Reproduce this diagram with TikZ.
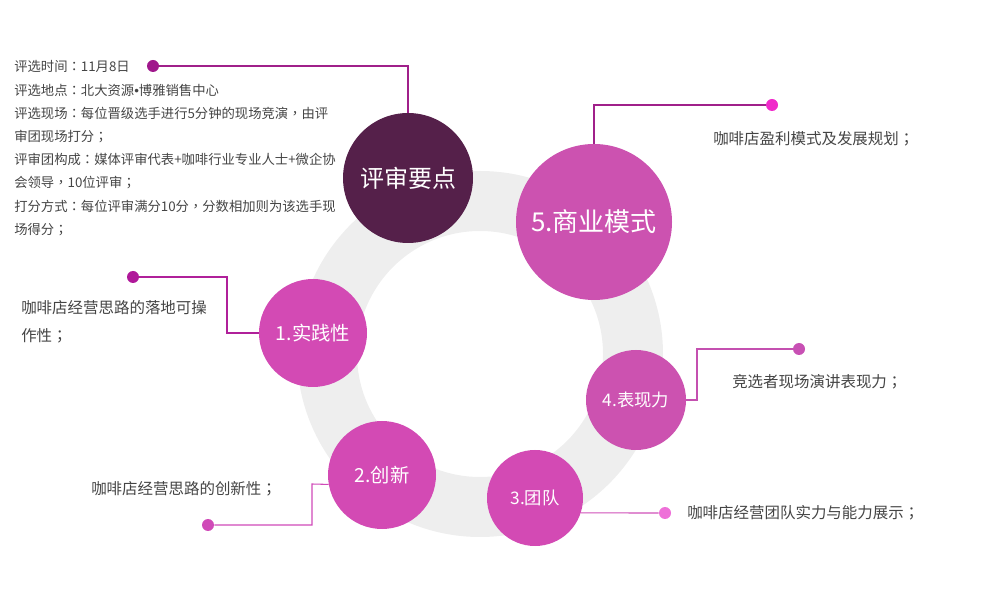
\documentclass[tikz,border=0pt]{standalone}
\usepackage{fontspec}
\setmainfont{Noto Sans CJK SC}
\newfontfamily\tcpunct{Noto Sans CJK TC}
\newfontfamily\latinbul{Liberation Sans}
\newcommand\pSemi{{\tcpunct ；}}
\newcommand\pColon{{\tcpunct ：}}
\newcommand\pComma{{\tcpunct ，}}
\newcommand\pBul{{\latinbul •}}
\definecolor{ringgray}{RGB}{238,238,238}
\definecolor{darkplum}{RGB}{85,32,74}
\definecolor{pinkA}{RGB}{204,82,176}
\definecolor{pinkB}{RGB}{211,74,180}
\definecolor{txtgray}{RGB}{68,68,68}
\definecolor{ln0}{RGB}{160,32,138}
\definecolor{ln1}{RGB}{176,32,154}
\definecolor{ln4}{RGB}{196,80,176}
\definecolor{ln2}{RGB}{208,74,184}
\definecolor{ln3}{RGB}{208,80,184}
\definecolor{dt0}{RGB}{160,23,140}
\definecolor{dt5}{RGB}{240,42,202}
\definecolor{dt1}{RGB}{176,24,154}
\definecolor{dt4}{RGB}{200,80,180}
\definecolor{dt2}{RGB}{208,74,184}
\definecolor{dt3}{RGB}{238,112,216}
\begin{document}
\begin{tikzpicture}[x=0.75pt,y=-0.75pt,
  bigc/.style={circle,inner sep=0pt,text=white,align=center},
  pdot/.style={circle,inner sep=0pt,minimum size=9pt},
  conn/.style={line width=0.8pt},
  info/.style={anchor=west,inner sep=0pt,text=txtgray,font=\fontsize{10pt}{12pt}\selectfont},
  desc/.style={anchor=west,inner sep=0pt,text=txtgray,font=\fontsize{11.6pt}{14pt}\selectfont}]
\useasboundingbox (0,0) rectangle (1000,616);
% ring
\fill[ringgray,even odd rule] (480,354) circle[radius=137.25pt] (480,354) circle[radius=92.25pt];
% circles
\node[bigc,fill=darkplum,minimum size=97.5pt,font=\fontsize{18pt}{20pt}\selectfont] (kp) at (408,178) {评审要点};
\node[bigc,fill=pinkA,minimum size=117pt,font=\fontsize{19.5pt}{22pt}\selectfont] (c5) at (594,222) {5.商业模式};
\node[bigc,fill=pinkB,minimum size=81pt,font=\fontsize{14.5pt}{16pt}\selectfont] (c1) at (313,333) {1.实践性};
\node[bigc,fill=pinkA,minimum size=75pt,font=\fontsize{13pt}{15pt}\selectfont] (c4) at (636,400) {4.表现力};
\node[bigc,fill=pinkB,minimum size=81pt,font=\fontsize{14.5pt}{16pt}\selectfont] (c2) at (382,475) {2.创新};
\node[bigc,fill=pinkB,minimum size=72pt,font=\fontsize{13pt}{15pt}\selectfont] (c3) at (535,498) {3.团队};
% dots
\node[pdot,fill=dt0] (d0) at (153,66) {};
\node[pdot,fill=dt5] (d5) at (772,105) {};
\node[pdot,fill=dt1] (d1) at (133,277) {};
\node[pdot,fill=dt4] (d4) at (799,349) {};
\node[pdot,fill=dt2] (d2) at (208,525) {};
\node[pdot,fill=dt3] (d3) at (665,513) {};
% bend coordinates
\coordinate (b1) at (227,333);
\coordinate (b4) at (697,400);
\coordinate (b2) at (312,484);
% connectors
\draw[conn,ln0] (d0.east) -| (kp.north);
\draw[conn,ln0] (d5.west) -| (c5.north);
\draw[conn,ln1] (d1.east) -| (b1) -- (c1.west);
\draw[conn,ln4] (d4.west) -| (b4) -- (c4.east);
\draw[conn,ln2] (d2.east) -| (b2) -- (c2.190);
\draw[conn,ln3] (d3.west) -- (c3.-18);
% info block
\node[info] (t1) at (14,66) {评选时间\pColon 11月8日};
\node[info] (t2) at (14,90) {评选地点\pColon 北大资源\pBul 博雅销售中心};
\node[info] (t3) at (14,113) {评选现场\pColon 每位晋级选手进行5分钟的现场竞演\pComma 由评};
\node[info] (t4) at (14,137) {审团现场打分\pSemi};
\node[info] (t5) at (14,159) {评审团构成\pColon 媒体评审代表+咖啡行业专业人士+微企协};
\node[info] (t6) at (14,183) {会领导\pComma 10位评审\pSemi};
\node[info] (t7) at (14,206) {打分方式\pColon 每位评审满分10分\pComma 分数相加则为该选手现};
\node[info] (t8) at (14,230) {场得分\pSemi};
% descriptions
\node[desc] (e5) at (713,139) {咖啡店盈利模式及发展规划\pSemi};
\node[desc] (e4) at (732,382) {竞选者现场演讲表现力\pSemi};
\node[desc] (e1a) at (21,308) {咖啡店经营思路的落地可操};
\node[desc] (e1b) at (21,336) {作性\pSemi};
\node[desc] (e2) at (91,489) {咖啡店经营思路的创新性\pSemi};
\node[desc] (e3) at (687,513) {咖啡店经营团队实力与能力展示\pSemi};
\end{tikzpicture}
\end{document}
